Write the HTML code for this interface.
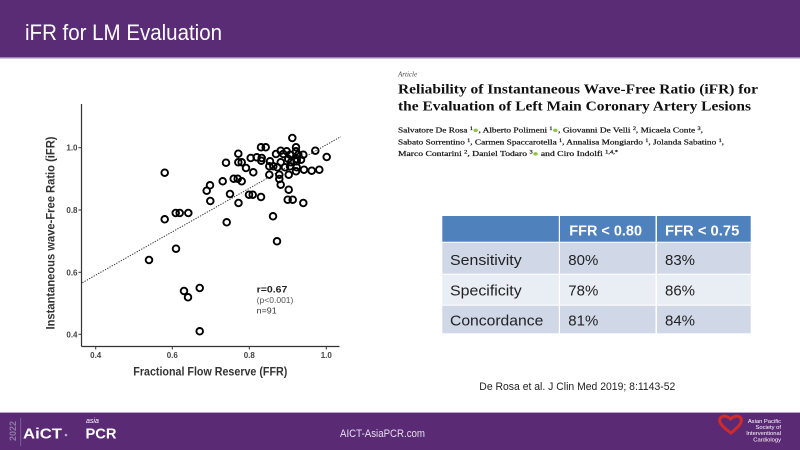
<!DOCTYPE html>
<html><head><meta charset="utf-8">
<style>
html,body{margin:0;padding:0;background:#fff;}
body{width:800px;height:450px;overflow:hidden;}
svg{display:block;}
</style></head>
<body>
<svg width="800" height="450" viewBox="0 0 800 450" xmlns="http://www.w3.org/2000/svg">
<rect width="800" height="450" fill="#ffffff"/>
<!-- header -->
<rect x="0" y="0" width="800" height="58" fill="#5b2c76"/>
<rect x="0" y="57" width="800" height="1.5" fill="#9d84b4"/>
<text x="25" y="40" font-family="Liberation Sans, sans-serif" font-size="22" fill="#ffffff" textLength="197" lengthAdjust="spacingAndGlyphs">iFR for LM Evaluation</text>

<!-- scatter plot -->
<g font-family="Liberation Sans, sans-serif">
<line x1="81.5" y1="104" x2="81.5" y2="346.5" stroke="#333" stroke-width="1.2"/>
<line x1="81.5" y1="346.5" x2="339.5" y2="346.5" stroke="#333" stroke-width="1.2"/>
<g stroke="#333" stroke-width="1">
<line x1="78.5" y1="147.7" x2="81.5" y2="147.7"/>
<line x1="78.5" y1="210" x2="81.5" y2="210"/>
<line x1="78.5" y1="272.3" x2="81.5" y2="272.3"/>
<line x1="78.5" y1="334.3" x2="81.5" y2="334.3"/>
<line x1="95.7" y1="346.5" x2="95.7" y2="349.5"/>
<line x1="172.3" y1="346.5" x2="172.3" y2="349.5"/>
<line x1="249.3" y1="346.5" x2="249.3" y2="349.5"/>
<line x1="326.3" y1="346.5" x2="326.3" y2="349.5"/>
</g>
<g font-size="8" font-weight="bold" fill="#444" text-anchor="end">
<text x="77.5" y="150.7">1.0</text>
<text x="77.5" y="213">0.8</text>
<text x="77.5" y="275.3">0.6</text>
<text x="77.5" y="337.3">0.4</text>
</g>
<g font-size="8" font-weight="bold" fill="#444" text-anchor="middle">
<text x="95.7" y="358">0.4</text>
<text x="172.3" y="358">0.6</text>
<text x="249.3" y="358">0.8</text>
<text x="326.3" y="358">1.0</text>
</g>
<text x="210.3" y="375.7" font-size="11.5" font-weight="bold" fill="#333" text-anchor="middle" textLength="154" lengthAdjust="spacingAndGlyphs">Fractional Flow Reserve (FFR)</text>
<text transform="translate(54.5,233) rotate(-90)" x="0" y="0" font-size="11.5" font-weight="bold" fill="#333" text-anchor="middle" textLength="193" lengthAdjust="spacingAndGlyphs">Instantaneous wave-Free Ratio (iFR)</text>

<line x1="82.3" y1="282.7" x2="340.7" y2="136.7" stroke="#333" stroke-width="1" stroke-dasharray="1.3 1.3"/>

<g fill="none" stroke="#000" stroke-width="1.9">
<circle cx="292.3" cy="138.0" r="3.3"/>
<circle cx="261.0" cy="147.3" r="3.3"/>
<circle cx="265.7" cy="147.3" r="3.3"/>
<circle cx="296.0" cy="147.3" r="3.3"/>
<circle cx="280.7" cy="150.7" r="3.3"/>
<circle cx="286.7" cy="151.3" r="3.3"/>
<circle cx="296.0" cy="151.3" r="3.3"/>
<circle cx="315.3" cy="150.7" r="3.3"/>
<circle cx="238.3" cy="153.7" r="3.3"/>
<circle cx="276.0" cy="154.0" r="3.3"/>
<circle cx="283.3" cy="154.0" r="3.3"/>
<circle cx="290.0" cy="154.7" r="3.3"/>
<circle cx="298.3" cy="154.7" r="3.3"/>
<circle cx="303.3" cy="154.7" r="3.3"/>
<circle cx="326.7" cy="157.0" r="3.3"/>
<circle cx="250.7" cy="158.0" r="3.3"/>
<circle cx="256.7" cy="157.3" r="3.3"/>
<circle cx="261.7" cy="158.0" r="3.3"/>
<circle cx="288.3" cy="159.0" r="3.3"/>
<circle cx="296.7" cy="159.0" r="3.3"/>
<circle cx="301.0" cy="159.7" r="3.3"/>
<circle cx="226.0" cy="162.7" r="3.3"/>
<circle cx="238.3" cy="162.3" r="3.3"/>
<circle cx="241.7" cy="162.3" r="3.3"/>
<circle cx="261.3" cy="160.7" r="3.3"/>
<circle cx="270.0" cy="161.3" r="3.3"/>
<circle cx="280.7" cy="162.3" r="3.3"/>
<circle cx="291.0" cy="162.3" r="3.3"/>
<circle cx="296.7" cy="161.3" r="3.3"/>
<circle cx="246.0" cy="168.0" r="3.3"/>
<circle cx="253.3" cy="172.3" r="3.3"/>
<circle cx="269.3" cy="166.3" r="3.3"/>
<circle cx="273.3" cy="166.3" r="3.3"/>
<circle cx="277.3" cy="167.3" r="3.3"/>
<circle cx="285.0" cy="167.3" r="3.3"/>
<circle cx="290.0" cy="166.3" r="3.3"/>
<circle cx="296.7" cy="167.3" r="3.3"/>
<circle cx="304.0" cy="169.7" r="3.3"/>
<circle cx="311.7" cy="170.7" r="3.3"/>
<circle cx="319.3" cy="169.7" r="3.3"/>
<circle cx="269.3" cy="174.7" r="3.3"/>
<circle cx="279.3" cy="174.7" r="3.3"/>
<circle cx="288.7" cy="174.7" r="3.3"/>
<circle cx="296.0" cy="171.3" r="3.3"/>
<circle cx="233.7" cy="178.7" r="3.3"/>
<circle cx="237.7" cy="178.7" r="3.3"/>
<circle cx="241.7" cy="181.3" r="3.3"/>
<circle cx="222.7" cy="181.3" r="3.3"/>
<circle cx="210.0" cy="185.3" r="3.3"/>
<circle cx="206.7" cy="190.7" r="3.3"/>
<circle cx="279.3" cy="179.0" r="3.3"/>
<circle cx="280.7" cy="184.7" r="3.3"/>
<circle cx="288.7" cy="189.7" r="3.3"/>
<circle cx="230.0" cy="194.0" r="3.3"/>
<circle cx="249.0" cy="194.7" r="3.3"/>
<circle cx="252.7" cy="194.7" r="3.3"/>
<circle cx="261.0" cy="197.0" r="3.3"/>
<circle cx="287.7" cy="199.7" r="3.3"/>
<circle cx="292.7" cy="199.7" r="3.3"/>
<circle cx="303.3" cy="203.0" r="3.3"/>
<circle cx="210.3" cy="201.0" r="3.3"/>
<circle cx="238.5" cy="203.0" r="3.3"/>
<circle cx="164.7" cy="172.7" r="3.3"/>
<circle cx="164.7" cy="219.3" r="3.3"/>
<circle cx="175.7" cy="213.0" r="3.3"/>
<circle cx="179.7" cy="213.0" r="3.3"/>
<circle cx="188.3" cy="213.0" r="3.3"/>
<circle cx="176.0" cy="248.7" r="3.3"/>
<circle cx="149.0" cy="260.0" r="3.3"/>
<circle cx="184.0" cy="291.0" r="3.3"/>
<circle cx="188.0" cy="297.3" r="3.3"/>
<circle cx="199.7" cy="288.0" r="3.3"/>
<circle cx="199.7" cy="331.3" r="3.3"/>
<circle cx="226.7" cy="222.3" r="3.3"/>
<circle cx="273.0" cy="216.3" r="3.3"/>
<circle cx="277.0" cy="241.3" r="3.3"/>
</g>
<text x="256.7" y="292.7" font-size="9.5" font-weight="bold" fill="#222" textLength="30.7" lengthAdjust="spacingAndGlyphs">r=0.67</text>
<text x="256.7" y="303" font-size="7.8" fill="#555" textLength="36.7" lengthAdjust="spacingAndGlyphs">(p&lt;0.001)</text>
<text x="256.7" y="313.3" font-size="8.5" fill="#333" textLength="20" lengthAdjust="spacingAndGlyphs">n=91</text>
</g>

<!-- article header -->
<g font-family="Liberation Serif, serif">
<text x="398" y="76.5" font-size="7" font-style="italic" fill="#444">Article</text>
<text x="398" y="93.3" font-size="14" font-weight="bold" fill="#111" textLength="360" lengthAdjust="spacingAndGlyphs">Reliability of Instantaneous Wave-Free Ratio (iFR) for</text>
<text x="398" y="110.7" font-size="14" font-weight="bold" fill="#111" textLength="353" lengthAdjust="spacingAndGlyphs">the Evaluation of Left Main Coronary Artery Lesions</text>
<g font-size="7.5" fill="#1a1a1a" stroke="#1a1a1a" stroke-width="0.25">
<text x="398" y="132.7" textLength="305" lengthAdjust="spacingAndGlyphs">Salvatore De Rosa <tspan font-size="5" dy="-2.5">1</tspan><tspan fill="#8cc63f" stroke="#8cc63f" dy="2.5">●</tspan>, Alberto Polimeni <tspan font-size="5" dy="-2.5">1</tspan><tspan fill="#8cc63f" stroke="#8cc63f" dy="2.5">●</tspan>, Giovanni De Velli <tspan font-size="5" dy="-2.5">2</tspan><tspan dy="2.5">, Micaela Conte </tspan><tspan font-size="5" dy="-2.5">3</tspan><tspan dy="2.5">,</tspan></text>
<text x="398" y="144.3" textLength="326" lengthAdjust="spacingAndGlyphs">Sabato Sorrentino <tspan font-size="5" dy="-2.5">1</tspan><tspan dy="2.5">, Carmen Spaccarotella </tspan><tspan font-size="5" dy="-2.5">1</tspan><tspan dy="2.5">, Annalisa Mongiardo </tspan><tspan font-size="5" dy="-2.5">1</tspan><tspan dy="2.5">, Jolanda Sabatino </tspan><tspan font-size="5" dy="-2.5">1</tspan><tspan dy="2.5">,</tspan></text>
<text x="398" y="156" textLength="220" lengthAdjust="spacingAndGlyphs">Marco Contarini <tspan font-size="5" dy="-2.5">2</tspan><tspan dy="2.5">, Daniel Todaro </tspan><tspan font-size="5" dy="-2.5">3</tspan><tspan fill="#8cc63f" stroke="#8cc63f" dy="2.5">●</tspan> and Ciro Indolfi <tspan font-size="5" dy="-2.5">1,4,*</tspan></text>
</g>
</g>

<!-- table -->
<g>
<rect x="442.3" y="216" width="116.5" height="25.7" fill="#4f81bd"/>
<rect x="560" y="216" width="95.5" height="25.7" fill="#4f81bd"/>
<rect x="657" y="216" width="93.7" height="25.7" fill="#4f81bd"/>
<rect x="442.3" y="242.7" width="116.5" height="31" fill="#d0d8e8"/>
<rect x="560" y="242.7" width="95.5" height="31" fill="#d0d8e8"/>
<rect x="657" y="242.7" width="93.7" height="31" fill="#d0d8e8"/>
<rect x="442.3" y="274.7" width="116.5" height="30" fill="#e9edf4"/>
<rect x="560" y="274.7" width="95.5" height="30" fill="#e9edf4"/>
<rect x="657" y="274.7" width="93.7" height="30" fill="#e9edf4"/>
<rect x="442.3" y="305.7" width="116.5" height="27.6" fill="#d0d8e8"/>
<rect x="560" y="305.7" width="95.5" height="27.6" fill="#d0d8e8"/>
<rect x="657" y="305.7" width="93.7" height="27.6" fill="#d0d8e8"/>
</g>
<g font-family="Liberation Sans, sans-serif" font-size="15">
<text x="569.3" y="235.7" fill="#fff" font-weight="bold" textLength="72.7" lengthAdjust="spacingAndGlyphs">FFR &lt; 0.80</text>
<text x="665" y="235.7" fill="#fff" font-weight="bold" textLength="74.3" lengthAdjust="spacingAndGlyphs">FFR &lt; 0.75</text>
<g fill="#222">
<text x="450" y="265" textLength="71.7" lengthAdjust="spacingAndGlyphs">Sensitivity</text>
<text x="568.3" y="265" textLength="30" lengthAdjust="spacingAndGlyphs">80%</text>
<text x="665" y="265" textLength="30" lengthAdjust="spacingAndGlyphs">83%</text>
<text x="450" y="295.7" textLength="71.7" lengthAdjust="spacingAndGlyphs">Specificity</text>
<text x="568.3" y="295.7" textLength="30" lengthAdjust="spacingAndGlyphs">78%</text>
<text x="665" y="295.7" textLength="30" lengthAdjust="spacingAndGlyphs">86%</text>
<text x="450" y="325.7" textLength="93.3" lengthAdjust="spacingAndGlyphs">Concordance</text>
<text x="568.3" y="325.7" textLength="30" lengthAdjust="spacingAndGlyphs">81%</text>
<text x="665" y="325.7" textLength="30" lengthAdjust="spacingAndGlyphs">84%</text>
</g>
</g>

<text x="479.3" y="390" font-family="Liberation Sans, sans-serif" font-size="11" fill="#222" textLength="196" lengthAdjust="spacingAndGlyphs">De Rosa et al. J Clin Med 2019; 8:1143-52</text>

<!-- footer -->
<rect x="0" y="412" width="800" height="38" fill="#5a2a75"/>
<rect x="0" y="412" width="800" height="1" fill="#b7a3cb"/>
<text transform="translate(16,431) rotate(-90)" x="0" y="0" font-family="Liberation Sans, sans-serif" font-size="9" font-weight="bold" fill="#8e7aa3" text-anchor="middle">2022</text>
<line x1="20.7" y1="418" x2="20.7" y2="446" stroke="#7d619a" stroke-width="1"/>
<text x="23" y="438.3" font-family="Liberation Sans, sans-serif" font-size="15" font-weight="bold" fill="#fff" textLength="39" lengthAdjust="spacingAndGlyphs">AiCT</text>
<circle cx="66" cy="435" r="1.3" fill="#b9a5d0"/>
<text x="86" y="423" font-family="Liberation Sans, sans-serif" font-size="7" font-style="italic" fill="#fff">asia</text>
<text x="85.5" y="438.3" font-family="Liberation Sans, sans-serif" font-size="15" font-weight="bold" fill="#fff" textLength="31" lengthAdjust="spacingAndGlyphs">PCR</text>
<text x="340" y="437" font-family="Liberation Sans, sans-serif" font-size="11" fill="#e6e0ec" textLength="85" lengthAdjust="spacingAndGlyphs">AICT-AsiaPCR.com</text>
<path d="M731 433 C724 428 718 423 720 418.5 C722 415 727 415.5 730.5 419 C734 415.5 739 415 741 418.5 C743 423 737 428 731 433 Z" fill="none" stroke="#d02a2a" stroke-width="3"/>
<g font-family="Liberation Sans, sans-serif" font-size="5.8" fill="#fff" text-anchor="end">
<text x="781" y="423">Asian Pacific</text>
<text x="781" y="429">Society of</text>
<text x="781" y="435">Interventional</text>
<text x="781" y="441.5">Cardiology</text>
</g>
</svg>
</body></html>
